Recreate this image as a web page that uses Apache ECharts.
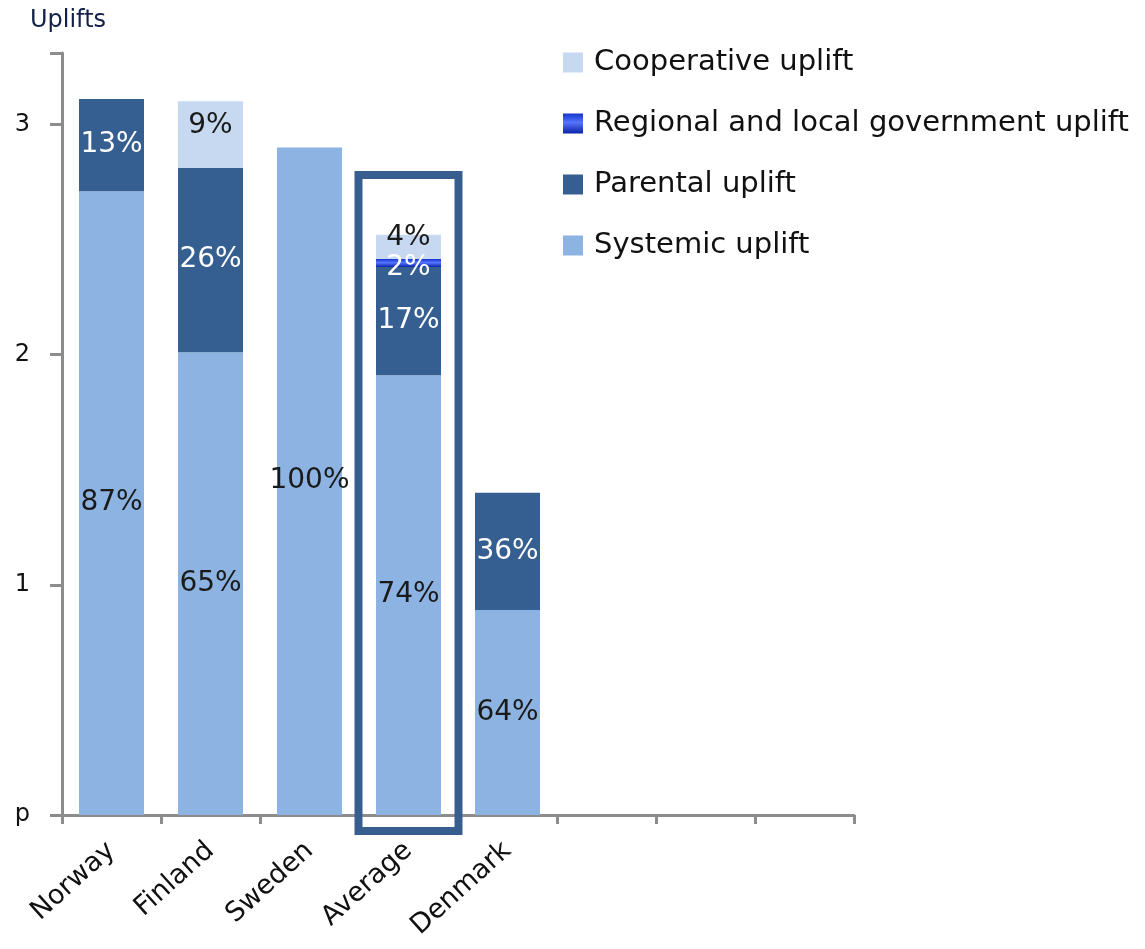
<!DOCTYPE html>
<html>
<head>
<meta charset="utf-8">
<script src="https://cdn.jsdelivr.net/npm/echarts@6/dist/echarts.min.js"></script>
<style>
  html, body { margin: 0; padding: 0; background: #ffffff; }
  #chart { width: 1145px; height: 949px; }
</style>
</head>
<body>
<div id="chart"></div>
<script>
// Uplift components per country (stacked bars), in uplift units
const categories = ['Norway', 'Finland', 'Sweden', 'Average', 'Denmark', '', '', ''];
const systemicUplift    = [2.71, 2.01, 2.90, 1.91, 0.89];
const parentalUplift    = [0.40, 0.80, '-', 0.47, 0.51];
const regionalUplift    = ['-', '-', '-', 0.035, '-'];
const cooperativeUplift = ['-', 0.29, '-', 0.105, '-'];

// Share of each component in the country's total uplift
const systemicShare    = ['87%', '65%', '100%', '74%', '64%'];
const parentalShare    = ['13%', '26%', '', '17%', '36%'];
const regionalShare    = ['', '', '', '2%', ''];
const cooperativeShare = ['', '9%', '', '4%', ''];

const yTickLabels = ['p', '1', '2', '3'];
const highlightedCategory = 'Average';

const FONT = '"DejaVu Sans", sans-serif';
const AXIS_GREY = '#8c8c8c';

const chart = echarts.init(document.getElementById('chart'), null, { renderer: 'canvas' });

function shareLabel(shares, color, offset) {
  return {
    show: true,
    position: 'inside',
    offset: offset || [0, 0],
    fontFamily: FONT,
    fontSize: 28,
    color: color,
    formatter: p => shares[p.dataIndex] || ''
  };
}

const regionalColor = new echarts.graphic.LinearGradient(0, 0, 0, 1, [
  { offset: 0, color: '#1434cc' },
  { offset: 0.45, color: '#5574ff' },
  { offset: 1, color: '#0a22a6' }
]);

const option = {
  animation: false,
  backgroundColor: '#ffffff',
  textStyle: { fontFamily: FONT },
  grid: { left: 62, right: 291, top: 53, bottom: 134, containLabel: false },
  legend: {
    orient: 'vertical',
    left: 558,
    top: 43,
    itemWidth: 20,
    itemHeight: 20,
    itemGap: 32,
    icon: 'rect',
    textStyle: { fontFamily: FONT, fontSize: 29, color: '#111111', padding: [0, 0, 0, 6] },
    data: ['Cooperative uplift', 'Regional and local government uplift', 'Parental uplift', 'Systemic uplift']
  },
  xAxis: {
    type: 'category',
    data: categories,
    axisLine: { show: true, lineStyle: { color: AXIS_GREY, width: 3 } },
    axisTick: { show: true, length: 9, alignWithLabel: false, lineStyle: { color: AXIS_GREY, width: 3 } },
    axisLabel: {
      rotate: 42,
      margin: 32,
      fontFamily: FONT,
      fontSize: 27,
      color: '#111111',
      interval: 0
    }
  },
  yAxis: {
    type: 'value',
    min: 0,
    max: 3.31,
    interval: 1,
    name: 'Uplifts',
    nameLocation: 'end',
    nameGap: 20,
    nameTextStyle: { fontFamily: FONT, fontSize: 24, color: '#14204a', align: 'center', padding: [0, 0, 0, 12] },
    axisLine: { show: true, lineStyle: { color: AXIS_GREY, width: 3 } },
    axisTick: { show: true, length: 12, lineStyle: { color: AXIS_GREY, width: 3 } },
    splitLine: { show: false },
    axisLabel: {
      margin: 32,
      fontFamily: FONT,
      fontSize: 24,
      color: '#111111',
      formatter: v => (Number.isInteger(v) && v < yTickLabels.length) ? yTickLabels[v] : ''
    }
  },
  series: [
    {
      name: 'Systemic uplift', type: 'bar', stack: 'uplift', barWidth: 65,
      itemStyle: { color: '#8db3e2' },
      label: shareLabel(systemicShare, '#1a1a1a'),
      data: systemicUplift
    },
    {
      name: 'Parental uplift', type: 'bar', stack: 'uplift', barWidth: 65,
      itemStyle: { color: '#365f91' },
      label: shareLabel(parentalShare, '#ffffff'),
      data: parentalUplift
    },
    {
      name: 'Regional and local government uplift', type: 'bar', stack: 'uplift', barWidth: 65,
      itemStyle: { color: regionalColor },
      label: shareLabel(regionalShare, '#ffffff', [0, 5]),
      data: regionalUplift
    },
    {
      name: 'Cooperative uplift', type: 'bar', stack: 'uplift', barWidth: 65,
      itemStyle: { color: '#c6d9f1' },
      label: shareLabel(cooperativeShare, '#1a1a1a', [0, -9]),
      data: cooperativeUplift
    }
  ]
};

chart.setOption(option);

// Frame around the highlighted category, placed through the axes' own scales
const topPx = chart.convertToPixel({ gridIndex: 0 }, [highlightedCategory, 2.78]);
const bottomPx = chart.convertToPixel({ gridIndex: 0 }, [highlightedCategory, -0.07]);
const halfWidth = 50;
chart.setOption({
  graphic: [{
    type: 'rect',
    z: 100,
    shape: {
      x: topPx[0] - halfWidth,
      y: topPx[1],
      width: halfWidth * 2,
      height: bottomPx[1] - topPx[1]
    },
    style: { fill: 'none', stroke: '#375e8e', lineWidth: 8 }
  }]
});
</script>
</body>
</html>
